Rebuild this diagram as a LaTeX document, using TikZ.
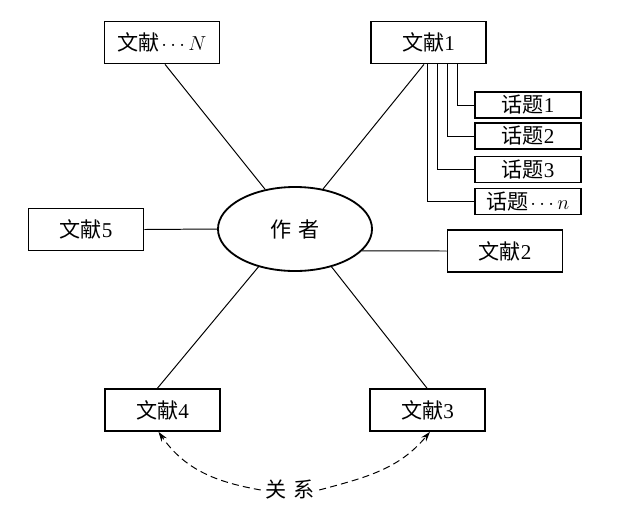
\documentclass[tikz,border=0pt]{standalone}
\usepackage{fontspec}
\setmainfont{Liberation Serif}
\newfontfamily\cjk{Noto Sans CJK SC}
\usetikzlibrary{arrows.meta,calc,shapes.geometric}

\begin{document}
\begin{tikzpicture}[x=0.025cm,y=-0.025cm,
  wbox/.style={draw,line width=1.2pt,minimum width=2.875cm,minimum height=1.05cm,inner sep=0pt,font=\fontsize{15}{17}\selectfont},
  tbox/.style={draw,line width=1.2pt,minimum width=2.65cm,minimum height=0.65cm,inner sep=0pt,font=\fontsize{15}{17}\selectfont},
  link/.style={line width=0.7pt}]
\useasboundingbox (0,0) rectangle (617,515);
\node[ellipse,draw,line width=1.3pt,minimum width=3.85cm,minimum height=2.1cm,inner sep=0pt,font=\fontsize{15}{17}\selectfont] (zz) at (295,229) {\cjk 作\hspace{0.3em}者};
\node[wbox] (wxN) at (162,42.5) {{\cjk 文献}\kern1pt$\cdots N$};
\node[wbox] (wx1) at (428.5,42.5) {{\cjk 文献}1};
\node[wbox] (wx5) at (86,229.5) {{\cjk 文献}5};
\node[wbox] (wx2) at (505,251) {{\cjk 文献}2};
\node[wbox] (wx4) at (162.5,410) {{\cjk 文献}4};
\node[wbox] (wx3) at (427.5,410) {{\cjk 文献}3};
\node[tbox] (ht1) at (528,105) {{\cjk 话题}1};
\node[tbox] (ht2) at (528,136) {{\cjk 话题}2};
\node[tbox] (ht3) at (528,169.5) {{\cjk 话题}3};
\node[tbox] (ht4) at (528,201.5) {{\cjk 话题}\kern1pt$\cdots n$};
\node[font=\fontsize{15}{17}\selectfont] (gx) at (290,490) {\cjk 关\hspace{0.3em}系};
\draw[link] ($(wxN.south)+(3,0)$) -- (zz.127.6);
\draw[link] ($(wx1.south)+(-4.5,0)$) -- (zz.55.7);
\draw[link] (wx5.east) -- (zz.west);
\draw[link] (wx2.west) -- (zz.-18);
\draw[link] ($(wx4.north)+(-5,0)$) -- (zz.226);
\draw[link] ($(wx3.north)+(-0.5,0)$) -- (zz.-46.5);
\foreach \i/\dx in {1/28.5,2/18.5,3/8.5,4/-1.5}
  \draw[link] ($(wx1.south)+(\dx,0)$) |- (ht\i.west);
\draw[link,dash pattern=on 5pt off 3pt,-{Stealth[length=7pt,width=4.5pt]}] (gx.west) to[out=170,in=-55] ($(wx4.south)+(-4,0)$);
\draw[link,dash pattern=on 5pt off 3pt,-{Stealth[length=7pt,width=4.5pt]}] (gx.east) to[out=15,in=-130] ($(wx3.south)+(2.5,0)$);
\end{tikzpicture}
\end{document}
